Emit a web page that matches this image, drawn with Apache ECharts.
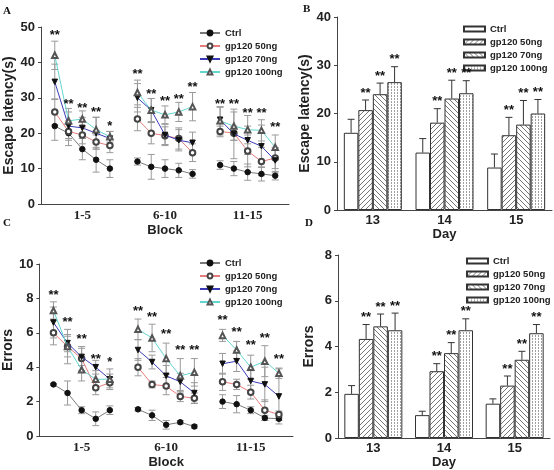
<!DOCTYPE html>
<html><head><meta charset="utf-8">
<script src="https://cdn.jsdelivr.net/npm/echarts@6/dist/echarts.min.js"></script>
<style>
html,body{margin:0;padding:0;background:#fff;width:554px;height:470px;overflow:hidden}
.p{position:absolute;left:0;top:0;width:554px;height:470px}
</style>
</head><body>
<div id="A" class="p"></div><div id="B" class="p"></div><div id="C" class="p"></div><div id="D" class="p"></div>
<script>
// ---------- data ----------
const seriesNames = ['Ctrl', 'gp120 50ng', 'gp120 70ng', 'gp120 100ng'];
const blockLabels = ['1-5', '6-10', '11-15'];
const days = ['13', '14', '15'];

// Panel A: escape latency (s), 15 trials (3 blocks x 5)
const latCtrl = [22, 20, 15.5, 12.5, 10, 12, 10.5, 10, 9.5, 8.5, 11, 10, 9, 8.5, 8];
const lat50 = [26, 20.5, 19.5, 17.5, 16.5, 24, 20, 19.3, 18.5, 14.5, 20.5, 20, 15, 12, 13];
const lat70 = [34.5, 22, 21.5, 20, 18.5, 30, 26.5, 19.5, 18, 17.3, 23.8, 19.8, 18, 16.3, 12.3];
const lat100 = [42, 23.5, 24, 21, 19, 31.5, 26.5, 25.2, 26, 27.5, 23.5, 22, 21, 20.8, 16];
const latSdCtrl = [4, 3.5, 3, 3.5, 2.5, 1, 3.5, 2.5, 2, 1.2, 1.2, 2, 2.3, 2, 1.2];
const latSd50 = [3.7, 2, 2.5, 2, 2, 3.3, 3, 2.5, 3, 2.5, 1.5, 2, 4.5, 4, 3];
const latSd70 = [5, 4, 3, 4.5, 2, 4, 3.3, 3, 3, 3, 3.5, 7, 4, 6, 3.5];
const latSd100 = [4, 3.5, 2.3, 3.5, 1.5, 3.5, 3.3, 2.5, 2.7, 4, 4, 4, 4, 3, 3.5];
const latStarY = [47.5, 28, 27, 26, 22, 36.5, 31, 29, 29.5, 33, 28, 28, 25.5, 25.5, 21.5];
const latStarTxt = ['**', '**', '**', '**', '*', '**', '**', '**', '**', '**', '**', '**', '**', '**', '**'];

// Panel C: errors, 15 trials
const errCtrl = [3.0, 2.5, 1.5, 1.0, 1.5, 1.55, 1.2, 0.65, 0.8, 0.55, 2.0, 1.85, 1.5, 1.05, 1.0];
const err50 = [6.0, 5.2, 4.5, 2.8, 3.1, 4.0, 3.0, 2.9, 2.3, 2.2, 3.15, 3.0, 2.55, 1.5, 1.25];
const err70 = [6.6, 5.4, 4.6, 4.0, 3.3, 5.0, 4.3, 3.5, 3.15, 2.5, 4.2, 4.35, 3.2, 3.0, 2.3];
const err100 = [7.3, 5.2, 3.85, 3.3, 3.3, 6.2, 5.7, 4.5, 3.5, 3.7, 5.85, 5.0, 4.0, 4.35, 3.65];
const errSdCtrl = [0.05, 0.7, 0.2, 0.4, 0.25, 0.1, 0.3, 0.25, 0.1, 0.1, 0.4, 0.5, 0.2, 0.15, 0.1];
const errSd50 = [0.7, 1.0, 0.7, 0.4, 0.3, 0.5, 0.2, 0.5, 0.3, 0.3, 0.5, 0.3, 0.4, 0.6, 0.2];
const errSd70 = [0.9, 0.5, 0.5, 0.4, 0.3, 0.6, 0.4, 0.6, 0.5, 0.6, 0.6, 0.6, 0.6, 1.0, 1.6];
const errSd100 = [0.5, 0.6, 0.65, 0.5, 0.6, 0.6, 0.8, 0.9, 1.0, 0.8, 0.35, 0.5, 0.7, 0.9, 0.3];
const errStarY = [8.2, 6.6, 5.6, 4.45, 4.3, 7.25, 6.9, 5.9, 5.0, 5.0, 6.7, 6.0, 5.25, 5.7, 4.45];
const errStarTxt = ['**', '**', '**', '**', '*', '**', '**', '**', '**', '**', '**', '**', '**', '**', '**'];

// Panel B: escape latency by day
const dayLatCtrl = [16, 11.9, 8.8];
const dayLat50 = [20.7, 18.1, 15.5];
const dayLat70 = [24.0, 23.1, 17.7];
const dayLat100 = [26.5, 24.2, 20.0];
const dayLatSdCtrl = [2.8, 2.9, 2.8];
const dayLatSd50 = [2.1, 2.9, 3.7];
const dayLatSd70 = [2.3, 3.8, 5.0];
const dayLatSd100 = [3.2, 2.6, 2.9];

// Panel D: errors by day
const dayErrCtrl = [1.93, 1.0, 1.5];
const dayErr50 = [4.33, 2.92, 2.29];
const dayErr70 = [4.88, 3.71, 3.42];
const dayErr100 = [4.71, 4.71, 4.58];
const dayErrSdCtrl = [0.36, 0.17, 0.21];
const dayErrSd50 = [0.63, 0.33, 0.42];
const dayErrSd70 = [0.54, 0.46, 0.37];
const dayErrSd100 = [0.75, 0.5, 0.38];
const dayStarTxt = ['', '**', '**', '**'];

// ---------- helpers ----------
const SANS = 'Liberation Sans, Arial, sans-serif';
const SERIF = 'Liberation Serif, Times New Roman, serif';
const AXIS_COLOR = '#444';

function trialX(k) { return Math.floor(k / 5) * 6 + (k % 5) + 1; }

function withBreaks(vals) {
  const out = [];
  vals.forEach((v, k) => {
    out.push([trialX(k), v]);
    if (k % 5 === 4 && k < vals.length - 1) out.push([trialX(k) + 1, '-']);
  });
  return out;
}

const lineStyles = [
  { symbol: 'circle', rot: 0, sym: '#111', line: '#7a7a7a' },
  { symbol: 'emptyCircle', rot: 0, sym: '#444', line: '#e67c7c' },
  { symbol: 'triangle', rot: 180, sym: '#111', line: '#3b3bb8' },
  { symbol: 'emptyTriangle', rot: 0, sym: '#555', line: '#62d6cf' }
];

function lineOption(grid, yMax, yInterval, yName, nameGapY, means, sds, starY, starTxt, legendTop, legendLeft) {
  const series = [];
  const errData = [];
  means.forEach((m, s) => {
    m.forEach((v, k) => errData.push([trialX(k), v - sds[s][k], v + sds[s][k]]));
  });
  series.push({
    type: 'custom', silent: true, z: 1,
    renderItem: (params, api) => {
      const x = api.value(0);
      const p1 = api.coord([x, api.value(1)]);
      const p2 = api.coord([x, api.value(2)]);
      const cw = 3.5;
      const st = { stroke: '#9a9a9a', lineWidth: 1 };
      return { type: 'group', children: [
        { type: 'line', shape: { x1: p1[0], y1: p1[1], x2: p2[0], y2: p2[1] }, style: st },
        { type: 'line', shape: { x1: p1[0] - cw, y1: p1[1], x2: p1[0] + cw, y2: p1[1] }, style: st },
        { type: 'line', shape: { x1: p2[0] - cw, y1: p2[1], x2: p2[0] + cw, y2: p2[1] }, style: st }
      ] };
    },
    data: errData
  });
  means.forEach((m, s) => {
    const ls = lineStyles[s];
    series.push({
      type: 'line', name: seriesNames[s], data: withBreaks(m), z: 3 + s,
      symbol: ls.symbol, symbolRotate: ls.rot, symbolSize: 5.5, showAllSymbol: true,
      connectNulls: false, animation: false,
      itemStyle: { color: ls.sym, borderColor: ls.sym, borderWidth: 1 },
      lineStyle: { color: ls.line, width: 1 }
    });
  });
  series.push({
    type: 'custom', silent: true, z: 10,
    renderItem: (params, api) => {
      const p = api.coord([api.value(0), api.value(1)]);
      return { type: 'text', x: p[0], y: p[1],
        style: { text: starTxt[params.dataIndex], font: 'bold 13px ' + SANS, fill: '#111',
          align: 'center', verticalAlign: 'middle', textAlign: 'center', textVerticalAlign: 'middle' } };
    },
    data: starY.map((y, k) => [trialX(k), y])
  });
  return {
    animation: false,
    grid: grid,
    legend: {
      data: seriesNames, orient: 'vertical', left: legendLeft, top: legendTop,
      itemWidth: 20, itemHeight: 6, itemGap: 3,
      textStyle: { fontFamily: SANS, fontWeight: 'bold', fontSize: 9.5, color: '#222' }
    },
    xAxis: {
      type: 'value', min: 0, max: 18, interval: 3,
      name: 'Block', nameLocation: 'middle', nameGap: 20,
      nameTextStyle: { fontFamily: SANS, fontWeight: 'bold', fontSize: 13, color: '#222' },
      axisLine: { lineStyle: { color: AXIS_COLOR } },
      axisTick: { show: false }, splitLine: { show: false },
      axisLabel: {
        margin: 5, fontFamily: SERIF, fontWeight: 'bold', fontSize: 13, color: '#222',
        formatter: v => (v % 6 === 3 ? blockLabels[(v - 3) / 6] : '')
      }
    },
    yAxis: {
      type: 'value', min: 0, max: yMax, interval: yInterval,
      name: yName, nameLocation: 'middle', nameGap: nameGapY,
      nameTextStyle: { fontFamily: SANS, fontWeight: 'bold', fontSize: 14, color: '#222' },
      axisLine: { show: true, lineStyle: { color: AXIS_COLOR } },
      axisTick: { show: true, length: 3, lineStyle: { color: AXIS_COLOR } },
      splitLine: { show: false },
      axisLabel: { margin: 6, fontFamily: SANS, fontWeight: 'bold', fontSize: 13, color: '#222' }
    },
    series: series
  };
}

function makePattern(kind) {
  const c = document.createElement('canvas');
  const n = kind === 'dot' ? 3 : 5;
  c.width = n; c.height = n;
  const g = c.getContext('2d');
  g.fillStyle = '#fff'; g.fillRect(0, 0, n, n);
  g.strokeStyle = '#777'; g.lineWidth = 1;
  if (kind === 'fwd') {
    g.beginPath(); g.moveTo(-1, n + 1); g.lineTo(n + 1, -1); g.stroke();
  } else if (kind === 'back') {
    g.beginPath(); g.moveTo(-1, -1); g.lineTo(n + 1, n + 1); g.stroke();
  } else if (kind === 'dot') {
    g.fillStyle = '#a0a0a0'; g.fillRect(1, 0, 1, 1); g.fillRect(1, 2, 1, 1);
  }
  return { image: c, repeat: 'repeat' };
}

const barFills = ['#ffffff', makePattern('fwd'), makePattern('back'), makePattern('dot')];
const BW = 14.5;

function barOption(grid, yMax, yInterval, yName, nameGapY, means, sds, legendTop, legendLeft) {
  const series = means.map((m, s) => ({
    type: 'bar', name: seriesNames[s], data: m, barWidth: BW, barGap: '0%', z: 2,
    itemStyle: { color: barFills[s], borderColor: '#333', borderWidth: 1 }
  }));
  const eb = [];
  means.forEach((m, s) => m.forEach((v, d) => eb.push([d, s, v, sds[s][d]])));
  series.push({
    type: 'custom', silent: true, z: 5,
    renderItem: (params, api) => {
      const d = api.value(0), s = api.value(1), v = api.value(2), e = api.value(3);
      const base = api.coord([d, v]);
      const top = api.coord([d, v + e]);
      const x = base[0] + (s - 1.5) * BW;
      const st = { stroke: '#333', lineWidth: 1 };
      const ch = [
        { type: 'line', shape: { x1: x, y1: base[1], x2: x, y2: top[1] }, style: st },
        { type: 'line', shape: { x1: x - 3.5, y1: top[1], x2: x + 3.5, y2: top[1] }, style: st }
      ];
      if (dayStarTxt[s]) ch.push({ type: 'text', x: x, y: top[1] - 7,
        style: { text: dayStarTxt[s], font: 'bold 13px ' + SANS, fill: '#111',
          align: 'center', verticalAlign: 'middle', textAlign: 'center', textVerticalAlign: 'middle' } });
      return { type: 'group', children: ch };
    },
    data: eb
  });
  return {
    animation: false,
    grid: grid,
    legend: {
      data: seriesNames, orient: 'vertical', left: legendLeft, top: legendTop,
      itemWidth: 21, itemHeight: 5, itemGap: 3, icon: 'rect',
      textStyle: { fontFamily: SANS, fontWeight: 'bold', fontSize: 9.5, color: '#222' }
    },
    xAxis: {
      type: 'category', data: days,
      name: 'Day', nameLocation: 'middle', nameGap: 18,
      nameTextStyle: { fontFamily: SANS, fontWeight: 'bold', fontSize: 13, color: '#222' },
      axisLine: { lineStyle: { color: AXIS_COLOR } },
      axisTick: { show: false },
      axisLabel: { margin: 4, fontFamily: SANS, fontWeight: 'bold', fontSize: 13, color: '#222' }
    },
    yAxis: {
      type: 'value', min: 0, max: yMax, interval: yInterval,
      name: yName, nameLocation: 'middle', nameGap: nameGapY,
      nameTextStyle: { fontFamily: SANS, fontWeight: 'bold', fontSize: 14, color: '#222' },
      axisLine: { show: true, lineStyle: { color: AXIS_COLOR } },
      axisTick: { show: true, length: 3, lineStyle: { color: AXIS_COLOR } },
      splitLine: { show: false },
      axisLabel: { margin: 6, fontFamily: SANS, fontWeight: 'bold', fontSize: 13, color: '#222' }
    },
    series: series
  };
}

function panelLetter(txt, x, y) {
  return { type: 'text', left: x, top: y,
    style: { text: txt, font: 'bold 11px ' + SERIF, fill: '#111' } };
}

// ---------- charts ----------
const optA = lineOption({ left: 41, top: 27, width: 248, height: 177 }, 50, 10, 'Escape latency(s)', 24,
  [latCtrl, lat50, lat70, lat100], [latSdCtrl, latSd50, latSd70, latSd100], latStarY, latStarTxt, 23, 194);
optA.graphic = [panelLetter('A', 3, 6)];
echarts.init(document.getElementById('A')).setOption(optA);

const optC = lineOption({ left: 36, top: 264, width: 257, height: 178 }, 10, 2, 'Errors', 20,
  [errCtrl, err50, err70, err100], [errSdCtrl, errSd50, errSd70, errSd100], errStarY, errStarTxt, 253, 194);
optC.graphic = [panelLetter('C', 3, 218)];
echarts.init(document.getElementById('C')).setOption(optC);

const optB = barOption({ left: 337, top: 17, width: 215, height: 193 }, 40, 10, 'Escape latency(s)', 22,
  [dayLatCtrl, dayLat50, dayLat70, dayLat100], [dayLatSdCtrl, dayLatSd50, dayLatSd70, dayLatSd100], 19, 458);
optB.graphic = [panelLetter('B', 303, 4)];
echarts.init(document.getElementById('B')).setOption(optB);

const optD = barOption({ left: 338, top: 255, width: 212, height: 192 }, 8, 2, 'Errors', 22,
  [dayErrCtrl, dayErr50, dayErr70, dayErr100], [dayErrSdCtrl, dayErrSd50, dayErrSd70, dayErrSd100], 251, 461);
optD.graphic = [panelLetter('D', 305, 218)];
echarts.init(document.getElementById('D')).setOption(optD);
</script>
</body></html>
